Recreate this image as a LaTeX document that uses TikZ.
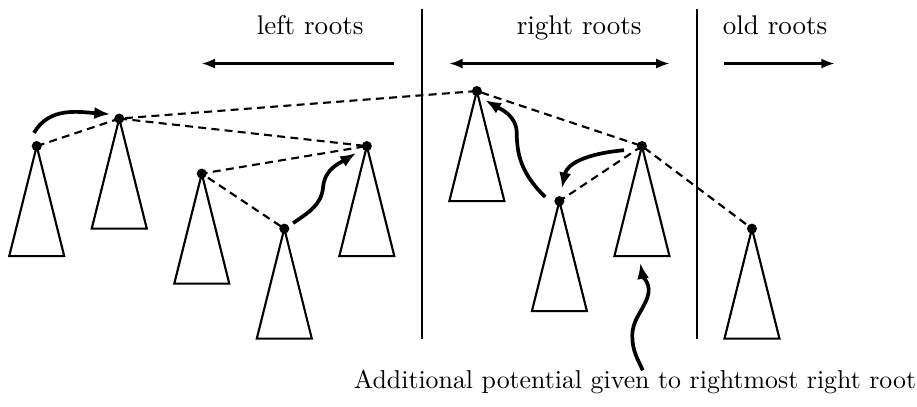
\documentclass[tikz,border=0pt]{standalone}
\usetikzlibrary{arrows.meta}
\begin{document}
\begin{tikzpicture}[x=0.365cm, y=0.365cm, >={Latex[length=5pt,width=3.8pt]}, thick,
  tri/.style={line width=0.8pt},
  link/.style={dash pattern=on 3pt off 2pt},
  move/.style={-{Latex[length=6pt,width=4.6pt]}, line width=1.4pt},
  rootlabel/.style={anchor=base}]

  \useasboundingbox (-1.335,-9.455) rectangle (32,5.31);

  % trees hanging from the roots
  \foreach \n/\x/\y in {a/0/0, b/3/1, c/6/-1, d/9/-3, e/12/0, f/16/2, g/19/-2, h/22/0, i/26/-3} {
    \coordinate (\n) at (\x,\y);
    \draw[tri] (\n) -- ++(-1,-4) -- ++(2,0) -- cycle;
  }

  % links between roots
  \draw[link] (a) -- (b) -- (f) -- (h) -- (i);
  \draw[link] (b) -- (e) -- (c) -- (d);
  \draw[link] (h) -- (g);
  \foreach \n in {a,b,c,d,e,f,g,h,i}
    \fill (\n) circle (1.9pt);

  % separators and headings
  \draw (14,5) -- (14,-7);
  \draw (24,5) -- (24,-7);
  \node[rootlabel, scale=1.02] (leftlbl) at (9.94,4.04) {left roots};
  \node[rootlabel, scale=1.02] (rightlbl) at (19.72,4.04) {right roots};
  \node[rootlabel, scale=1.02] (oldlbl) at (26.84,4.04) {old roots};
  \draw[->] (13,3) -- (6,3);
  \draw[<->] (15,3) -- (23,3);
  \draw[->] (25,3) -- (29,3);

  % moves
  \draw[move] (-0.1,0.48) to[out=60,in=176] (2.67,1.16);
  \draw[move] (9.32,-2.8) to[out=35,in=-95] (10.41,-1.49) to[out=85,in=212] (11.61,-0.25);
  \draw[move] (18.48,-1.85) to[out=135,in=-90] (17.45,0.46) to[out=90,in=-30] (16.3,1.67);
  \draw[move] (21.35,-0.15) to[out=185,in=78] (19.09,-1.54);

  % extra potential
  \node[rootlabel, scale=0.975] (note) at (21.75,-8.8) {Additional potential given to rightmost right root};
  \draw[move] (22.03,-8.15) to[out=115,in=-90] (21.65,-6.9) to[out=90,in=-110] (22.2,-5.5) to[out=70,in=-80] (21.94,-4.25);
\end{tikzpicture}
\end{document}
